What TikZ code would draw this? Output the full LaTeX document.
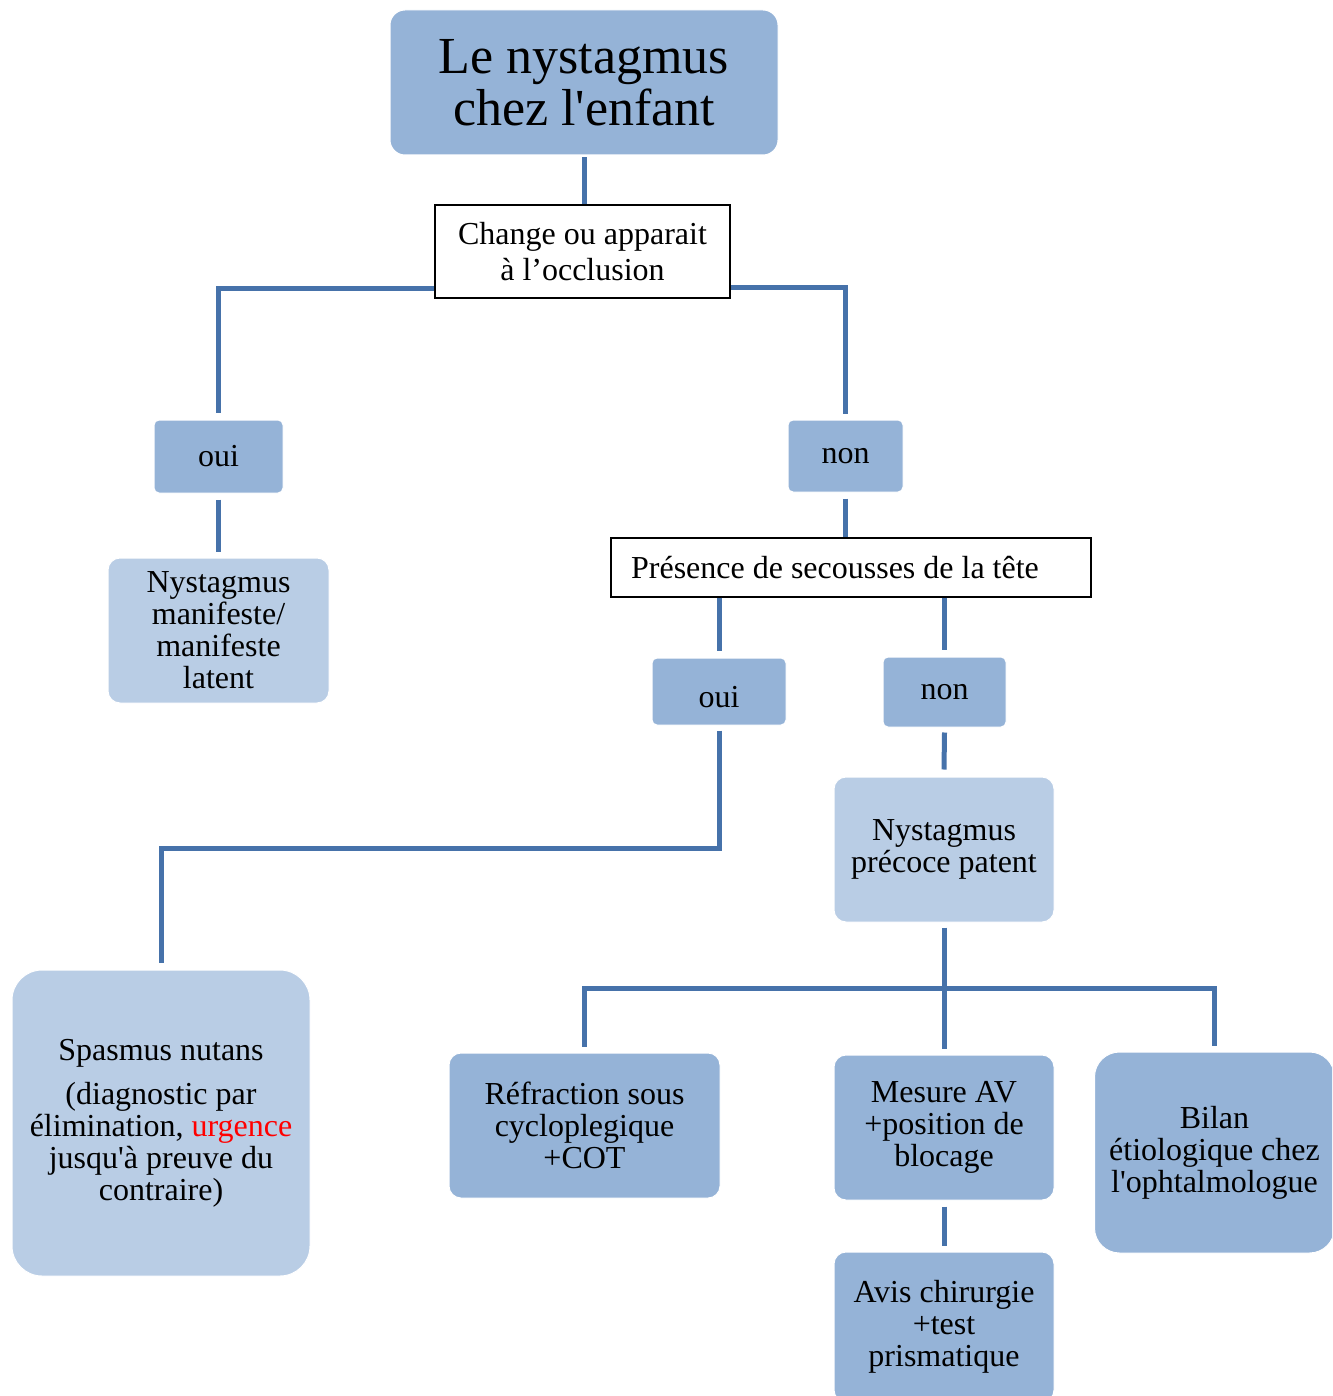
\documentclass[tikz,border=0pt]{standalone}
\usepackage{fontspec}
\setmainfont{Liberation Serif}
\definecolor{darkbox}{HTML}{95B3D7}
\definecolor{lightbox}{HTML}{B9CDE5}
\definecolor{linecol}{HTML}{4672AA}
\definecolor{urg}{HTML}{FF0000}
\newcommand{\sq}{\textquotesingle}
\begin{document}
\begin{tikzpicture}[x=1pt,y=-1pt,
  base/.style={inner sep=0pt,align=center,font=\fontsize{32}{32}\selectfont},
  darkb/.style={base,fill=darkbox,draw=white,line width=1pt},
  lightb/.style={base,fill=lightbox,draw=white,line width=1pt},
  whiteb/.style={base,fill=white,draw=black,line width=1.3pt},
  conn/.style={draw=linecol,line width=5pt}]
\useasboundingbox (0,0) rectangle (1332,1396);
\clip (0,0) rectangle (1332,1396);
% nodes
\node[darkb,rounded corners=15pt,minimum width=388pt,minimum height=145pt,font=\fontsize{52}{52}\selectfont] (title) at (584,82.5) {Le nystagmus\\chez l\sq enfant};
\node[whiteb,minimum width=295pt,minimum height=93pt,font=\fontsize{32}{36}\selectfont] (chg) at (582.5,251.5) {Change ou apparait\\à l’occlusion};
\node[darkb,rounded corners=5pt,minimum width=129pt,minimum height=73pt] (oui1) at (218.5,456.5) {oui};
\node[darkb,rounded corners=5pt,minimum width=115pt,minimum height=72pt] (non1) at (845.5,456) {non};
\node[lightb,rounded corners=12pt,minimum width=221pt,minimum height=145pt] (man) at (218.5,630.5) {Nystagmus\\manifeste/\\manifeste\\latent};
\node[whiteb,minimum width=480pt,minimum height=59pt] (pres) at (851,567.5) {\hspace*{-32pt}Présence de secousses de la tête};
\node[darkb,rounded corners=5pt,minimum width=134pt,minimum height=67pt] (oui2) at (719,691.5) {\raisebox{-5pt}[\height][0pt]{oui}};
\node[darkb,rounded corners=5pt,minimum width=123pt,minimum height=70pt] (non2) at (944.5,692) {non};
\node[lightb,rounded corners=12pt,minimum width=220pt,minimum height=145pt] (prec) at (944,849.5) {Nystagmus\\précoce patent};
\node[lightb,rounded corners=30pt,minimum width=298pt,minimum height=306pt] (spas) at (161,1123) {Spasmus nutans\\[12pt](diagnostic par\\élimination, \textcolor{urg}{urgence}\\jusqu\sq à preuve du\\contraire)};
\node[darkb,rounded corners=12pt,minimum width=271pt,minimum height=145pt] (refr) at (584.5,1125.5) {Réfraction sous\\cycloplegique\\+COT};
\node[darkb,rounded corners=12pt,minimum width=220pt,minimum height=145pt] (mes) at (944,1127.5) {Mesure AV\\+position de\\blocage};
\node[darkb,rounded corners=25pt,minimum width=240pt,minimum height=201pt] (bil) at (1214.5,1152.5) {Bilan\\étiologique chez\\l\sq ophtalmologue};
\node[darkb,rounded corners=12pt,minimum width=220pt,minimum height=150pt] (avis) at (944,1327) {Avis chirurgie\\+test\\prismatique};
% connectors
\draw[conn] ([yshift=-2pt]title.south) -- (title.south |- chg.north);
\draw[conn] ([yshift=10pt]chg.south west) -| ([yshift=7pt]oui1.north);
\draw[conn] ([yshift=11pt]chg.south east) -| ([yshift=6pt]non1.north);
\draw[conn] ([yshift=-6pt]oui1.south) -- ([yshift=6pt]man.north);
\draw[conn] ([yshift=-6pt]non1.south) -- (pres.north -| non1.south);
\draw[conn] (pres.south -| oui2.north) -- ([yshift=7pt]oui2.north);
\draw[conn] (pres.south -| non2.north) -- ([yshift=7pt]non2.north);
\draw[conn] ([yshift=-5pt]oui2.south) -- ++(0,118) -| ([yshift=7pt]spas.north);
\draw[conn] ([yshift=-5pt]non2.south) -- ([yshift=7pt]prec.north);
\draw[conn] ([yshift=-5pt]prec.south) -- ++(0,61) coordinate (hub);
\draw[conn] ([yshift=6pt]refr.north) |- (hub) -| ([yshift=6pt]bil.north);
\draw[conn] (hub) -- ([yshift=6pt]mes.north);
\draw[conn] ([yshift=-6pt]mes.south) -- ([yshift=6pt]avis.north);
\end{tikzpicture}
\end{document}
